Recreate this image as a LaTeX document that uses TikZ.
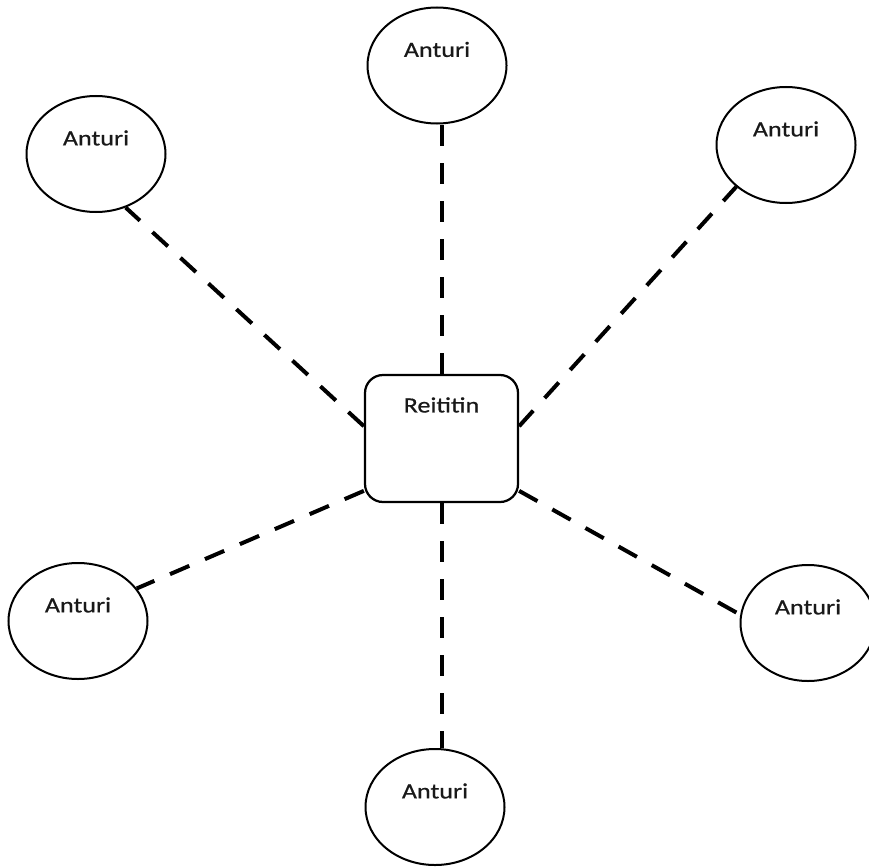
\documentclass[tikz,border=0pt]{standalone}
\usepackage{fontspec}
\setmainfont[FakeStretch=1.2, FakeBold=0.6]{Carlito}
\usepackage{tikz}
\usetikzlibrary{shapes.geometric}
\usetikzlibrary{calc}

\tikzset{
	anturi/.style={draw, ellipse, line width=0.04cm, minimum width=2.78cm, minimum height=2.32cm,
		label={[lbl, yshift=0.32cm]center:Anturi}},
	reititin/.style={draw, rectangle, rounded corners=0.36cm, line width=0.045cm, minimum width=3.06cm, minimum height=2.54cm},
	lbl/.style={font=\fontsize{12.4}{14}\selectfont, text=black!90, inner sep=0pt},
	yhteys/.style={line width=0.08cm, dash pattern=on 0.42cm off 0.34cm}
}

\begin{document}
\begin{tikzpicture}
			\useasboundingbox (0,0) rectangle (17.38,-17.32);
			\node at (8.83,-8.77) (R) [reititin, label={[lbl, yshift=0.67cm]center:Reititin}] {} ;
			\node at (8.74,-1.31) (A1) [anturi] {} ;
			\node at (1.92,-3.08) (A2) [anturi] {} ;
			\node at (15.72,-2.90) (A3) [anturi] {} ;
			\node at (1.56,-12.42) (A4) [anturi] {} ;
			\node at (16.16,-12.46) (A5) [anturi, minimum width=2.7cm] {} ;
			\node at (8.70,-16.14) (A6) [anturi] {} ;
			% yhteydet reitittimeen
			\draw [yhteys] (R.north) -- (R.north |- A1.south);
			\draw [yhteys] (R.171) -- (A2.-61);
			\draw [yhteys] (R.9) -- (A3.220);
			\draw [yhteys] (R.214) -- (A4.29);
			\draw [yhteys] (R.-34) -- (A5.173);
			\draw [yhteys] (R.south) -- (R.south |- A6.north);
			\end{tikzpicture}
\end{document}
